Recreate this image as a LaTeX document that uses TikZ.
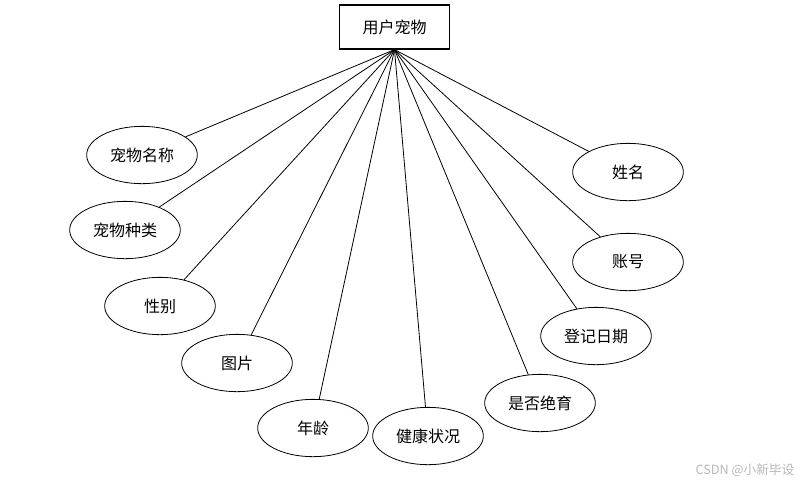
\documentclass[tikz,border=0pt]{standalone}
\usepackage{fontspec}
\newfontfamily\cjk{Noto Sans CJK SC}
\usetikzlibrary{shapes.geometric}
\begin{document}
\begin{tikzpicture}[x=0.75pt,y=-0.75pt,
  attr/.style={draw,ellipse,line width=0.6pt,minimum width=83pt,minimum height=43pt,inner sep=0pt,font=\cjk\fontsize{12}{14}\selectfont},
  entity/.style={draw,rectangle,line width=0.9pt,minimum width=83pt,minimum height=33pt,inner sep=0pt,font=\cjk\fontsize{12}{14}\selectfont},
  link/.style={line width=0.6pt}]
\useasboundingbox (0,0) rectangle (809,487);
\node[entity] (e) at (394.5,27) {用户宠物};
\node[attr] (a1) at (142,155) {宠物名称};
\node[attr] (a2) at (125,230) {宠物种类};
\node[attr] (a3) at (160,306) {性别};
\node[attr] (a4) at (237,363) {图片};
\node[attr] (a5) at (313,428) {年龄};
\node[attr] (a6) at (428,436) {健康状况};
\node[attr] (a7) at (540,403) {是否绝育};
\node[attr] (a8) at (596,336) {登记日期};
\node[attr] (a9) at (628,262) {账号};
\node[attr] (a10) at (628,172) {姓名};
\foreach \i in {1,...,10} \draw[link] (e.south) -- (a\i);
\node[font=\cjk\fontsize{9.5}{11}\selectfont,text=black!28,anchor=east] (wm) at (799,470) {CSDN @小新毕设};
\end{tikzpicture}
\end{document}
